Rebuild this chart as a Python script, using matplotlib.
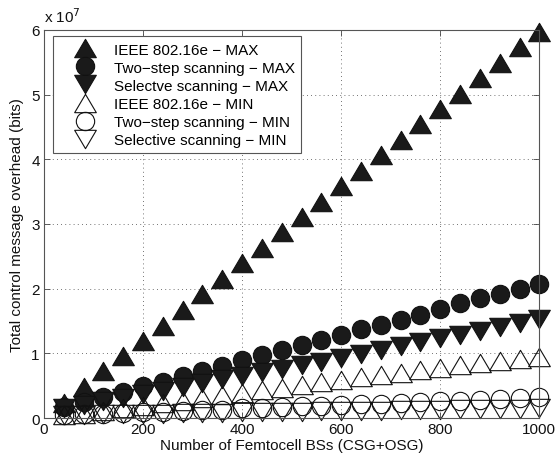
import matplotlib
matplotlib.use("Agg")
from matplotlib import pyplot as plt
from matplotlib.path import Path

plt.rcParams['font.family'] = ['Liberation Sans', 'DejaVu Sans']

# number of femtocell BSs
bs = [40, 80, 120, 160, 200, 240, 280, 320, 360, 400, 440, 480, 520,
      560, 600, 640, 680, 720, 760, 800, 840, 880, 920, 960, 1000]

# overhead in units of 1e7 bits
ieee_max = [0.24, 0.48, 0.72, 0.96, 1.19, 1.43, 1.67, 1.91, 2.15, 2.39, 2.63, 2.87, 3.10,
            3.34, 3.58, 3.82, 4.06, 4.30, 4.54, 4.78, 5.01, 5.25, 5.49, 5.73, 5.97]
two_max = [0.17, 0.25, 0.33, 0.41, 0.49, 0.56, 0.65, 0.73, 0.81, 0.90, 0.97, 1.05, 1.13,
           1.21, 1.28, 1.37, 1.44, 1.52, 1.60, 1.69, 1.78, 1.85, 1.92, 2.00, 2.07]
sel_max = [0.15, 0.20, 0.26, 0.31, 0.37, 0.42, 0.48, 0.54, 0.60, 0.65, 0.71, 0.76, 0.82,
           0.87, 0.93, 0.99, 1.05, 1.12, 1.17, 1.23, 1.28, 1.35, 1.41, 1.47, 1.53]
ieee_min = [0.04, 0.07, 0.11, 0.15, 0.19, 0.23, 0.27, 0.31, 0.35, 0.39, 0.43, 0.47, 0.51,
            0.55, 0.59, 0.63, 0.67, 0.70, 0.74, 0.78, 0.815, 0.85, 0.875, 0.91, 0.94]
two_min = [0.05, 0.06, 0.07, 0.08, 0.09, 0.10, 0.11, 0.12, 0.13, 0.15, 0.16, 0.17, 0.18,
           0.19, 0.20, 0.21, 0.22, 0.235, 0.25, 0.26, 0.27, 0.28, 0.29, 0.305, 0.32]
sel_min = [0.05, 0.054, 0.058, 0.062, 0.066, 0.07, 0.075, 0.079, 0.083, 0.087, 0.091, 0.095, 0.10,
           0.104, 0.108, 0.112, 0.116, 0.12, 0.125, 0.129, 0.133, 0.137, 0.141, 0.145, 0.15]

labels = ['IEEE 802.16e \u2212 MAX', 'Two\u2212step scanning \u2212 MAX', 'Selectve scanning \u2212 MAX',
          'IEEE 802.16e \u2212 MIN', 'Two\u2212step scanning \u2212 MIN', 'Selective scanning \u2212 MIN']

# matlab-like wide triangles
up = Path([(-1.18, -1), (1.18, -1), (0, 1), (-1.18, -1)], closed=True)
down = Path([(-1.18, 1), (1.18, 1), (0, -1), (-1.18, 1)], closed=True)

fig = plt.figure(figsize=(5.56, 4.6), dpi=100)
ax = fig.add_axes([0.079, 0.089, 0.891, 0.844])

series = [(ieee_max, up, 15.6, '#1a1a1a'),
          (two_max, 'o', 13.2, '#1a1a1a'),
          (sel_max, down, 15.6, '#1a1a1a'),
          (ieee_min, up, 15.6, 'none'),
          (two_min, 'o', 13.2, 'none'),
          (sel_min, down, 15.6, 'none')]
for (vals, mk, ms, fc), lab in zip(series, labels):
    ax.plot(bs, vals, linestyle='none', marker=mk, markersize=ms, markerfacecolor=fc,
            markeredgecolor='#111111', markeredgewidth=0.8, label=lab, clip_on=False)

ax.set_xlim(0, 1000)
ax.set_ylim(0, 6)
ax.set_xticks([0, 200, 400, 600, 800, 1000])
ax.set_yticks([0, 1, 2, 3, 4, 5, 6])
ax.tick_params(direction='in', top=True, right=True, labelsize=11, length=4,
               width=0.6, color='#444444', labelcolor='#111111', pad=3)
for s in ax.spines.values():
    s.set_color('#555555')
    s.set_linewidth(0.8)
ax.grid(True, linestyle=(0, (1, 4)), color='#444444', linewidth=0.6)
ax.set_axisbelow(True)

ax.set_xlabel('Number of Femtocell BSs (CSG+OSG)', fontsize=11, color='#111111', labelpad=1)
ax.set_ylabel('Total control message overhead (bits)', fontsize=11, color='#111111', labelpad=5)
ax.text(0.0, 1.012, r'x 10$^{7}$', transform=ax.transAxes, fontsize=11, color='#111111',
        ha='left', va='bottom')

leg = ax.legend(loc='upper left', bbox_to_anchor=(0.018, 0.983), borderaxespad=0,
                fontsize=11, numpoints=1, labelspacing=0.27, handlelength=3.4,
                handletextpad=0.2, borderpad=0.4, fancybox=False, framealpha=1)
leg.get_frame().set_edgecolor('#555555')
leg.get_frame().set_linewidth(0.8)

fig.savefig('out.png', dpi=100)
